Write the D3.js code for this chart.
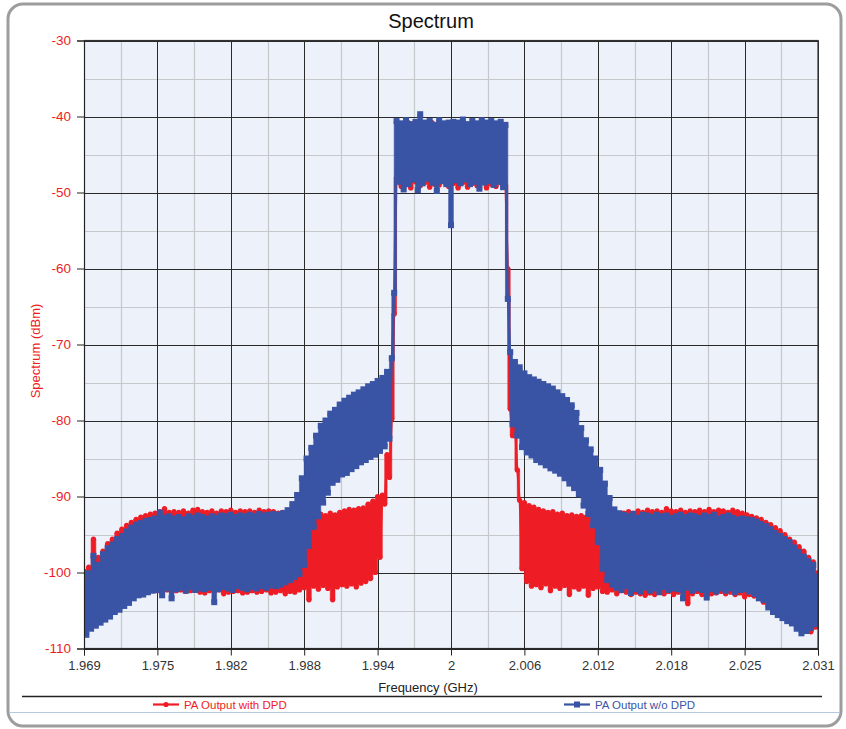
<!DOCTYPE html>
<html><head><meta charset="utf-8">
<script src="https://cdn.jsdelivr.net/npm/d3@7"></script>
<style>body{margin:0;background:#fff}svg{display:block;font-family:Arial,"Liberation Sans",sans-serif}</style>
</head><body><svg id="c" width="846" height="729"></svg>
<script>
// ---- data ----
const xTickLabels = ["1.969","1.975","1.982","1.988","1.994","2","2.006","2.012","2.018","2.025","2.031"];
const yTickValues = [-30,-40,-50,-60,-70,-80,-90,-100,-110];
const freqStart = 1.969;   // GHz, first spectrum bin
const freqStep = 0.0002;   // GHz, bin spacing
const seriesNames = ["PA Output with DPD","PA Output w/o DPD"];

const withDPD = [
-99.8,-107.5,-99.3,-107.0,-95.6,-106.4,-98.0,-105.9,-97.2,-105.3,
-96.2,-105.0,-95.6,-104.6,-94.8,-104.0,-94.3,-103.6,-93.8,-103.3,
-93.4,-103.0,-93.0,-102.8,-92.7,-102.6,-92.5,-102.4,-92.3,-102.3,
-92.2,-102.4,-92.0,-102.5,-91.6,-102.3,-92.1,-102.6,-92.0,-102.4,
-92.1,-102.3,-91.9,-102.5,-92.2,-102.4,-91.8,-102.2,-91.7,-102.6,
-92.0,-102.7,-92.1,-102.4,-91.9,-102.5,-92.2,-102.3,-91.9,-102.8,
-92.0,-102.6,-91.8,-102.5,-92.1,-102.4,-91.9,-102.7,-92.0,-102.6,
-91.9,-102.4,-92.1,-102.6,-91.8,-102.5,-92.0,-102.3,-91.9,-102.7,
-92.0,-102.6,-92.2,-102.4,-92.1,-102.8,-92.3,-102.5,-92.2,-102.6,
-92.3,-102.3,-92.5,-102.0,-92.8,-103.6,-92.6,-101.8,-92.4,-102.2,
-92.3,-101.7,-92.5,-102.1,-92.2,-103.6,-92.4,-101.9,-92.1,-101.6,
-91.9,-101.8,-91.7,-101.5,-91.8,-101.9,-91.6,-101.4,-91.5,-101.2,
-91.0,-100.8,-90.6,-100.0,-90.0,-98.0,-89.8,-91.0,-84.5,-87.5,
-79.8,-66.0,-48.0,-41.0,-49.2,-41.5,-48.8,-40.8,-49.4,-41.2,
-48.6,-41.0,-49.1,-40.9,-48.7,-41.3,-49.3,-40.8,-48.9,-41.1,
-49.0,-41.4,-48.6,-41.0,-49.2,-41.3,-48.8,-40.9,-49.4,-41.2,
-48.7,-41.0,-49.3,-41.3,-48.8,-40.9,-49.1,-41.2,-48.6,-41.0,
-49.4,-41.3,-48.9,-41.1,-49.2,-40.9,-48.7,-41.2,-49.0,-60.0,
-78.5,-82.0,-80.5,-86.5,-90.5,-99.5,-90.8,-101.2,-91.2,-101.8,
-91.4,-101.6,-91.7,-102.0,-91.9,-101.5,-92.1,-102.4,-92.0,-101.8,
-92.3,-102.1,-92.2,-101.7,-92.5,-102.9,-92.4,-101.9,-92.6,-102.2,
-92.5,-101.8,-92.7,-103.0,-92.6,-102.1,-92.8,-101.9,-92.7,-102.5,
-92.9,-102.6,-92.7,-102.3,-92.6,-102.8,-92.4,-102.4,-92.2,-102.6,
-92.0,-102.9,-92.2,-102.6,-91.9,-102.8,-92.1,-103.0,-91.8,-102.7,
-92.0,-102.9,-91.9,-102.6,-92.1,-102.8,-91.6,-102.5,-91.9,-102.9,
-92.0,-102.6,-91.8,-102.7,-92.1,-104.1,-91.9,-102.8,-92.0,-102.5,
-91.8,-102.9,-92.0,-102.6,-91.7,-102.8,-92.0,-102.7,-91.8,-102.5,
-91.9,-102.8,-92.1,-102.6,-91.8,-102.9,-92.0,-102.7,-92.2,-103.2,
-92.4,-102.9,-92.6,-103.1,-92.8,-103.4,-93.0,-103.9,-93.4,-104.2,
-93.7,-104.7,-94.1,-105.2,-94.5,-105.6,-95.0,-105.9,-95.6,-106.2,
-96.0,-106.8,-96.6,-107.4,-97.2,-107.1,-98.0,-107.8,-98.6,-107.2,-100.0
];

const withoutDPD = [
-101.2,-108.2,-100.1,-107.4,-97.8,-107.0,-99.0,-106.6,-97.6,-106.2,
-96.8,-105.8,-96.3,-105.2,-95.6,-104.9,-95.2,-104.4,-94.6,-104.0,
-94.1,-103.4,-93.7,-103.0,-93.5,-102.9,-93.2,-102.6,-93.1,-102.4,
-92.9,-102.3,-92.1,-103.0,-92.8,-102.1,-92.6,-103.4,-92.9,-102.2,
-92.7,-102.0,-93.0,-102.4,-92.6,-101.9,-92.8,-102.3,-92.5,-102.1,
-92.7,-102.2,-92.9,-102.0,-92.6,-103.9,-92.8,-102.2,-92.5,-101.9,
-92.6,-102.1,-92.4,-102.3,-92.7,-101.8,-92.5,-102.0,-92.6,-102.2,
-92.4,-101.9,-92.6,-102.1,-92.3,-101.8,-92.5,-102.0,-92.4,-101.7,
-92.3,-101.8,-92.4,-101.6,-92.2,-101.3,-91.8,-101.0,-91.0,-100.6,
-89.8,-100.2,-87.6,-99.0,-85.0,-96.5,-83.6,-94.0,-82.0,-92.6,
-80.7,-90.8,-80.0,-89.5,-79.1,-88.2,-78.6,-87.8,-77.9,-87.1,
-77.4,-86.9,-77.0,-86.4,-76.6,-86.0,-76.3,-85.5,-75.9,-85.2,
-75.5,-84.8,-75.2,-84.5,-74.8,-84.0,-74.4,-83.4,-73.6,-82.4,
-71.8,-63.2,-40.6,-48.6,-40.9,-49.6,-40.5,-48.9,-41.0,-48.3,
-40.7,-49.7,-39.7,-48.8,-40.8,-48.2,-40.6,-48.7,-41.1,-49.8,
-40.5,-48.5,-40.9,-48.9,-40.8,-54.3,-40.7,-48.4,-40.8,-48.8,
-40.4,-48.3,-41.0,-48.9,-40.6,-48.6,-40.9,-49.5,-40.5,-48.7,
-40.8,-48.5,-40.6,-49.0,-40.9,-48.6,-40.7,-49.3,-41.1,-64.0,
-71.0,-80.5,-72.3,-82.0,-73.0,-83.5,-73.8,-84.2,-74.3,-84.6,
-74.6,-85.2,-74.9,-85.5,-75.2,-85.9,-75.5,-86.3,-75.8,-86.6,
-76.3,-87.0,-76.8,-87.6,-77.3,-88.3,-78.0,-88.9,-79.0,-89.7,
-81.0,-91.2,-82.6,-92.3,-83.8,-93.8,-85.0,-96.0,-86.5,-99.5,
-88.3,-101.0,-90.2,-101.6,-91.7,-102.0,-92.2,-102.3,-92.4,-101.8,
-92.6,-102.7,-92.3,-102.2,-92.8,-102.5,-92.4,-102.0,-92.5,-102.4,
-92.7,-102.1,-92.4,-102.6,-92.6,-101.9,-92.5,-102.3,-92.8,-102.1,
-92.6,-102.2,-92.4,-103.4,-92.7,-102.0,-92.5,-102.4,-92.6,-102.1,
-92.8,-102.3,-92.5,-103.3,-92.7,-102.2,-92.4,-102.5,-92.9,-102.1,
-92.7,-102.4,-92.5,-102.1,-92.8,-102.6,-93.0,-102.3,-92.9,-102.2,
-93.0,-102.5,-93.1,-102.8,-93.3,-103.4,-93.6,-103.6,-93.9,-104.6,
-94.3,-105.2,-94.8,-105.6,-95.2,-106.0,-95.6,-106.4,-96.0,-106.7,
-96.7,-107.4,-97.3,-108.0,-97.9,-107.7,-98.5,-107.3,-99.0,-106.8,-100.5
];

// ---- drawing ----
const RED = "#ee1d25", BLUE = "#3a54a5";
const svg = d3.select("#c");
const L = 84, R = 818, T = 40.5, B = 648.5;
const x = d3.scaleLinear().domain([1.969, 2.031]).range([L, R]);
const y = d3.scaleLinear().domain([-110, -30]).range([B, T]);

// outer frame
svg.append("rect").attr("x",8).attr("y",4).attr("width",833).attr("height",722)
  .attr("rx",15).attr("fill","#fff").attr("stroke","#9d9d9d").attr("stroke-width",3);

// title
svg.append("text").attr("x",431).attr("y",28).attr("text-anchor","middle")
  .attr("font-size",20).attr("fill","#111").text("Spectrum");

// plot background
svg.append("rect").attr("x",L).attr("y",T).attr("width",R-L).attr("height",B-T).attr("fill","#edf1fa");

const xTickVals = xTickLabels.map((d,i)=> 1.969 + i*(2.031-1.969)/10);
// minor grid
const xMinor = d3.range(10).map(i => (xTickVals[i]+xTickVals[i+1])/2);
const yMinor = d3.range(8).map(i => -35 - i*10);
const g = svg.append("g");
g.selectAll(".xm").data(xMinor).join("line").attr("x1",d=>Math.round(x(d))+0.5).attr("x2",d=>Math.round(x(d))+0.5)
  .attr("y1",T).attr("y2",B).attr("stroke","#c6c8cc").attr("stroke-width",1.2);
g.selectAll(".ym").data(yMinor).join("line").attr("y1",d=>Math.round(y(d))+0.5).attr("y2",d=>Math.round(y(d))+0.5)
  .attr("x1",L).attr("x2",R).attr("stroke","#c6c8cc").attr("stroke-width",1.2);
// major grid
g.selectAll(".xg").data(xTickVals).join("line").attr("x1",d=>Math.round(x(d))+0.5).attr("x2",d=>Math.round(x(d))+0.5)
  .attr("y1",T).attr("y2",B).attr("stroke","#2a2a2a").attr("stroke-width",1);
g.selectAll(".yg").data(yTickValues).join("line").attr("y1",d=>Math.round(y(d))+0.5).attr("y2",d=>Math.round(y(d))+0.5)
  .attr("x1",L).attr("x2",R).attr("stroke","#2a2a2a").attr("stroke-width",1);

// clip
svg.append("clipPath").attr("id","clip").append("rect").attr("x",L).attr("y",T).attr("width",R-L).attr("height",B-T);
const plot = svg.append("g").attr("clip-path","url(#clip)");

function pts(arr){ return arr.map((v,i)=>({f: freqStart + i*freqStep, v})); }
const line = d3.line().x(d=>x(d.f)).y(d=>y(d.v));
// region swept between consecutive samples (dense trace fill)
const sweep = d3.area().curve(d3.curveStepAfter)
  .x(d=>x(d[0].f))
  .y0(d=>y(Math.min(d[0].v, d[1].v)))
  .y1(d=>y(Math.max(d[0].v, d[1].v)));

function drawSeries(arr, color, marker){
  const p = pts(arr);
  const pr = d3.pairs(p);
  pr.push([p[p.length-1], p[p.length-1]]);
  plot.append("path").datum(pr).attr("d",sweep).attr("fill",color).attr("stroke",color).attr("stroke-width",0.6);
  plot.append("path").datum(p).attr("d",line).attr("fill","none").attr("stroke",color).attr("stroke-width",2).attr("stroke-linejoin","round");
  if(marker==="circle")
    plot.selectAll(null).data(p).join("circle").attr("cx",d=>x(d.f)).attr("cy",d=>y(d.v)).attr("r",2.6).attr("fill",color);
  else
    plot.selectAll(null).data(p).join("rect").attr("x",d=>x(d.f)-3).attr("y",d=>y(d.v)-3).attr("width",6).attr("height",6).attr("fill",color);
}
drawSeries(withDPD, RED, "circle");
drawSeries(withoutDPD, BLUE, "square");

// plot border
svg.append("rect").attr("x",L+0.5).attr("y",T).attr("width",R-L-0.5).attr("height",B-T)
  .attr("fill","none").attr("stroke","#333").attr("stroke-width",1.2);

// axes
const xAxis = d3.axisBottom(x).tickValues(xTickVals).tickSize(7).tickPadding(5)
  .tickFormat((d,i)=>xTickLabels[i]);
const xa = svg.append("g").attr("transform",`translate(0,${B})`).call(xAxis);
xa.select(".domain").attr("stroke","#222");
xa.selectAll(".tick line").attr("stroke","#222");
xa.selectAll("text").attr("font-size",13).attr("fill","#333").attr("font-family","Arial, Liberation Sans, sans-serif");

const yAxis = d3.axisLeft(y).tickValues(yTickValues).tickSize(7).tickPadding(6).tickFormat(d=>String(d));
const ya = svg.append("g").attr("transform",`translate(${L},0)`).call(yAxis);
ya.select(".domain").attr("stroke","#222");
ya.selectAll(".tick line").attr("stroke","#222");
ya.selectAll("text").attr("font-size",13.5).attr("fill",RED).attr("font-family","Arial, Liberation Sans, sans-serif");

// axis titles
svg.append("text").attr("x",428).attr("y",692).attr("text-anchor","middle").attr("font-size",13).attr("fill","#222").text("Frequency (GHz)");
svg.append("text").attr("transform","translate(40,351) rotate(-90)").attr("text-anchor","middle").attr("font-size",13).attr("fill",RED).text("Spectrum (dBm)");

// legend frame lines
svg.append("line").attr("x1",22).attr("x2",822).attr("y1",696.5).attr("y2",696.5).attr("stroke","#222").attr("stroke-width",1.3);
svg.append("line").attr("x1",10).attr("x2",839).attr("y1",712.5).attr("y2",712.5).attr("stroke","#b7c8e4").attr("stroke-width",1.2);

// legend items
const leg = [
  {name: seriesNames[0], color: RED, x: 153, shape: "circle"},
  {name: seriesNames[1], color: BLUE, x: 564, shape: "square"}
];
leg.forEach(l=>{
  const gy = 704.5;
  svg.append("line").attr("x1",l.x).attr("x2",l.x+26).attr("y1",gy).attr("y2",gy).attr("stroke",l.color).attr("stroke-width",2.2);
  if(l.shape==="circle") svg.append("circle").attr("cx",l.x+13).attr("cy",gy).attr("r",2.6).attr("fill",l.color);
  else svg.append("rect").attr("x",l.x+10).attr("y",gy-3).attr("width",6).attr("height",6).attr("fill",l.color);
  svg.append("text").attr("x",l.x+31).attr("y",gy+4).attr("font-size",11.5).attr("fill",l.color).text(l.name);
});
</script>
</body></html>
